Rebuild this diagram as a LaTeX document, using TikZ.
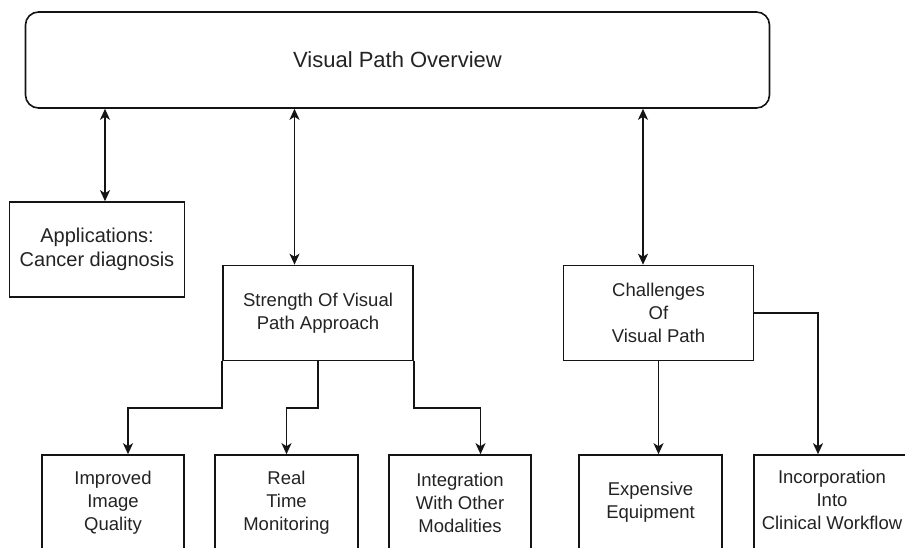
\documentclass[tikz,border=0pt]{standalone}
\usepackage{fontspec}
\setmainfont{Liberation Sans}
\usetikzlibrary{arrows.meta,calc}
\definecolor{txt}{RGB}{35,35,35}
\definecolor{edge}{RGB}{20,20,20}
\tikzset{
  box/.style={draw=edge, line width=1.6pt, fill=white, align=center, text=txt,
    inner sep=0pt, font=\fontsize{18.5}{23}\selectfont},
  arr/.style={draw=edge, line width=1.7pt,
    -{Stealth[length=11pt,width=10pt,inset=3pt]}},
  dbl/.style={draw=edge, line width=1.7pt,
    {Stealth[length=11pt,width=10pt,inset=3pt]}-{Stealth[length=11pt,width=10pt,inset=3pt]}},
}
\begin{document}
\begin{tikzpicture}[x=1pt,y=-1pt]
\clip (0,0) rectangle (905,548);

% overview banner
\node[box, rounded corners=13pt, minimum width=744pt, minimum height=96pt,
  font=\fontsize{22}{26}\selectfont] (top) at (397.5,60) {Visual Path Overview};

% second level
\node[box, minimum width=175pt, minimum height=95pt,
  font=\fontsize{20}{24}\selectfont] (app) at (97,249.5) {Applications:\\Cancer diagnosis};
\node[box, minimum width=190pt, minimum height=95pt] (str) at (318,313)
  {Strength Of Visual\\Path Approach};
\node[box, minimum width=190pt, minimum height=95pt] (chal) at (658.5,313)
  {Challenges\\Of\\Visual Path};

% third level
\node[box, minimum width=142pt, minimum height=95pt] (imp) at (113,502.5)
  {Improved\\Image\\Quality};
\node[box, minimum width=143pt, minimum height=95pt] (rt) at (286.5,502.5)
  {Real\\Time\\Monitoring};
\node[box, minimum width=142pt, minimum height=95pt] (integ) at (460,502.5)
  {Integration\\With Other\\Modalities};
\node[box, minimum width=143pt, minimum height=95pt] (exp) at (650.5,502.5)
  {Expensive\\Equipment};
\node[box, minimum width=172pt, minimum height=95pt] (inc) at (840,502.5) {};
\node[align=center, text=txt, inner sep=0pt, font=\fontsize{18.5}{23}\selectfont]
  (inctext) at (832,500) {Incorporation\\Into\\Clinical Workflow};

% links from the banner
\path ([xshift=8pt]app.north) coordinate (a1)
      ([xshift=-23.5pt]str.north) coordinate (a2)
      ([xshift=-15.5pt]chal.north) coordinate (a3);
\draw[dbl] (a1 |- top.south) -- (a1);
\draw[dbl] (a2 |- top.south) -- (a2);
\draw[dbl] (a3 |- top.south) -- (a3);

% strengths
\path ([xshift=15pt]imp.north) coordinate (b1)
      ([xshift=20.5pt]integ.north) coordinate (b3);
\draw[arr] (str.south west) -- ++(0,47) -| (b1);
\draw[arr] (str.south) -- ++(0,47) -| (rt.north);
\draw[arr] (str.south east) -- ++(0,47) -| (b3);

% challenges
\path ([xshift=-22pt]inc.north) coordinate (c2);
\draw[arr] (chal.south) -- (chal.south |- exp.north);
\draw[arr] (chal.east) -| (c2);
\end{tikzpicture}
\end{document}
